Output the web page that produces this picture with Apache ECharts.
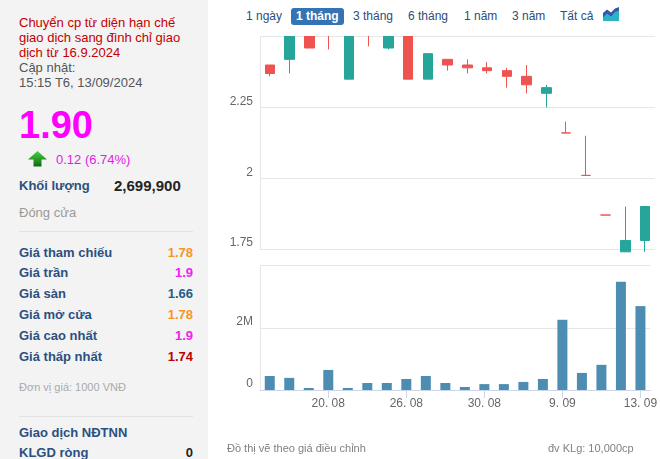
<!DOCTYPE html>
<html>
<head>
<meta charset="utf-8">
<script src="https://cdn.jsdelivr.net/npm/echarts@6/dist/echarts.min.js"></script>
<style>
  html, body { margin:0; padding:0; background:#fff; width:660px; height:459px; overflow:hidden;
    font-family:"Liberation Sans", Arial, sans-serif; }
  #panel { position:absolute; left:0; top:0; width:208px; height:459px; background:#f3f3f3; }
  .t { position:absolute; white-space:nowrap; }
  .lbl { position:absolute; left:19px; font-size:13px; font-weight:bold; color:#2b5080; line-height:16px; white-space:nowrap; }
  .val { position:absolute; right:15px; font-size:13px; font-weight:bold; line-height:16px; text-align:right; }
  .sep { position:absolute; left:19px; width:174px; height:1px; background:#e2e2e2; }
  #chart { position:absolute; left:208px; top:0; width:452px; height:459px; }
  #mask { position:absolute; left:208px; top:0; width:452px; height:36px; background:#fff; z-index:5; }
  .btn { position:absolute; top:8px; height:17px; line-height:17px; font-size:12px; color:#2e4d7b; white-space:nowrap; }
  .btn.on { background:#3574b4; color:#fff; font-weight:bold; border-radius:3px; padding:0 5px; }
  .foot { position:absolute; top:441px; font-size:11px; color:#808080; line-height:14px; white-space:nowrap; z-index:6; }
</style>
</head>
<body>
<div id="panel">
  <div class="t" style="left:19px;top:15px;font-size:13px;line-height:15px;color:#c40000;">Chuyển cp từ diện hạn chế<br>giao dịch sang đình chỉ giao<br>dịch từ 16.9.2024</div>
  <div class="t" style="left:19px;top:60px;font-size:13px;line-height:15px;color:#555;">Cập nhật:<br>15:15 T6, 13/09/2024</div>
  <div class="t" style="left:19px;top:106px;font-size:38px;line-height:38px;font-weight:bold;color:#ff00ff;">1.90</div>
  <svg class="t" style="left:28px;top:151px;" width="19" height="16" viewBox="0 0 19 16">
    <defs><linearGradient id="ga" x1="0" y1="0" x2="0" y2="1"><stop offset="0" stop-color="#4fcf3f"/><stop offset="1" stop-color="#0a6a12"/></linearGradient></defs>
    <polygon points="9.5,0 19,8.5 13.5,8.5 13.5,15.5 5.5,15.5 5.5,8.5 0,8.5" fill="url(#ga)"/>
  </svg>
  <div class="t" style="left:56px;top:152px;font-size:13px;line-height:16px;color:#e619e6;">0.12 (6.74%)</div>
  <div class="lbl" style="top:178px;">Khối lượng</div>
  <div class="t" style="left:114px;top:177px;font-size:15px;line-height:17px;font-weight:bold;color:#222;">2,699,900</div>
  <div class="t" style="left:19px;top:205px;font-size:13px;line-height:16px;color:#9a9a9a;">Đóng cửa</div>
  <div class="sep" style="top:231px;"></div>
  <div class="lbl" style="top:245px;">Giá tham chiếu</div><div class="val" style="top:245px;color:#f5961f;">1.78</div>
  <div class="lbl" style="top:265px;">Giá trần</div><div class="val" style="top:265px;color:#f020f0;">1.9</div>
  <div class="lbl" style="top:286px;">Giá sàn</div><div class="val" style="top:286px;color:#255c8c;">1.66</div>
  <div class="lbl" style="top:307px;">Giá mở cửa</div><div class="val" style="top:307px;color:#f5961f;">1.78</div>
  <div class="lbl" style="top:328px;">Giá cao nhất</div><div class="val" style="top:328px;color:#f020f0;">1.9</div>
  <div class="lbl" style="top:349px;">Giá thấp nhất</div><div class="val" style="top:349px;color:#c00000;">1.74</div>
  <div class="t" style="left:19px;top:380px;font-size:11px;line-height:14px;color:#aaa;">Đơn vị giá: 1000 VNĐ</div>
  <div class="sep" style="top:416px;"></div>
  <div class="lbl" style="top:425px;">Giao dịch NĐTNN</div>
  <div class="lbl" style="top:445px;">KLGD ròng</div><div class="val" style="top:445px;color:#222;">0</div>
</div>
<div id="chart"></div>
<div id="mask">
  <div class="btn" style="left:38px;">1 ngày</div>
  <div class="btn on" style="left:83px;">1 tháng</div>
  <div class="btn" style="left:145px;">3 tháng</div>
  <div class="btn" style="left:200px;">6 tháng</div>
  <div class="btn" style="left:256px;">1 năm</div>
  <div class="btn" style="left:304px;">3 năm</div>
  <div class="btn" style="left:352px;">Tất cả</div>
  <svg style="position:absolute;left:395px;top:7px;" width="16" height="14" viewBox="0 0 16 14">
    <polygon points="0,6 4,2.5 8,5.5 12,1.5 16,0 16,14 0,14" fill="#3a55a8"/>
    <polygon points="0,10.5 4,6.5 8,9.5 12,5 16,3.5 16,14 0,14" fill="#2cb3c8"/>
  </svg>
</div>
<div class="foot" style="left:227px;">Đồ thị vẽ theo giá điều chỉnh</div>
<div class="foot" style="left:548px;">đv KLg: 10,000cp</div>
<script>
// ---- data ----
const dates = ['15. 08','16. 08','19. 08','20. 08','21. 08','22. 08','23. 08','26. 08','27. 08','28. 08',
               '29. 08','30. 08','4. 09','5. 09','6. 09','9. 09','10. 09','11. 09','12. 09','13. 09'];
const openP  = [2.40, 2.42, 2.55, 2.56, 2.35, 2.54, 2.46, 2.53, 2.35, 2.42, 2.40, 2.39, 2.38, 2.36, 2.30, 2.16, 2.01, 1.87, 1.74, 1.78];
const closeP = [2.37, 2.55, 2.46, 2.52, 2.55, 2.52, 2.53, 2.35, 2.44, 2.40, 2.39, 2.38, 2.36, 2.33, 2.32, 2.16, 2.01, 1.87, 1.78, 1.90];
const lowP   = [2.36, 2.37, 2.46, 2.455, 2.35, 2.466, 2.455, 2.35, 2.35, 2.38, 2.37, 2.37, 2.32, 2.30, 2.25, 2.16, 2.01, 1.87, 1.74, 1.74];
const highP  = [2.40, 2.57, 2.56, 2.58, 2.56, 2.56, 2.55, 2.54, 2.44, 2.42, 2.42, 2.41, 2.39, 2.40, 2.33, 2.20, 2.15, 1.87, 1.90, 1.90];
const volume = [450000, 390000, 65000, 645000, 65000, 226000, 226000, 355000, 450000, 226000,
                97000, 190000, 190000, 260000, 355000, 2260000, 550000, 810000, 3480000, 2700000];
const labelIdx = [3, 7, 11, 15, 19];
const priceTicks = {min: 1.75, max: 2.5, interval: 0.25};
const volTicks = {min: 0, max: 4000000, interval: 2000000};

const candleData = dates.map((d, i) => [openP[i], closeP[i], lowP[i], highP[i]]);
const UP = '#26a69a', DOWN = '#ef5350';
const axisFont = {fontFamily: '"Liberation Sans", Arial, sans-serif', fontSize: 12, color: '#666'};

const chart = echarts.init(document.getElementById('chart'), null, {renderer: 'canvas'});
chart.setOption({
  animation: false,
  grid: [
    {left: 52, right: 5, top: 36.7, height: 212.3},
    {left: 52, right: 5, top: 265.7, height: 124.3}
  ],
  xAxis: [
    {type: 'category', gridIndex: 0, data: dates, boundaryGap: true,
     axisLine: {show: false}, axisTick: {show: false}, axisLabel: {show: false}, splitLine: {show: false}},
    {type: 'category', gridIndex: 1, data: dates, boundaryGap: true,
     axisLine: {show: true, lineStyle: {color: '#ccd6eb'}},
     axisTick: {show: true, alignWithLabel: true, length: 8, lineStyle: {color: '#ccd6eb'},
                interval: (i) => labelIdx.includes(i)},
     axisLabel: Object.assign({interval: (i) => labelIdx.includes(i), margin: 8}, axisFont),
     splitLine: {show: false}}
  ],
  yAxis: [
    {type: 'value', gridIndex: 0, min: priceTicks.min, max: priceTicks.max, interval: priceTicks.interval,
     axisLine: {show: true, lineStyle: {color: '#e6e6e6'}}, axisTick: {show: false},
     splitLine: {lineStyle: {color: '#e6e6e6'}},
     axisLabel: Object.assign({margin: 7, verticalAlign: 'bottom', lineHeight: 12,
       formatter: (v) => (Math.abs(v - priceTicks.max) < 1e-9 ? '' : String(+v.toFixed(2)))}, axisFont)},
    {type: 'value', gridIndex: 1, min: volTicks.min, max: volTicks.max, interval: volTicks.interval,
     axisLine: {show: true, lineStyle: {color: '#e6e6e6'}}, axisTick: {show: false},
     splitLine: {lineStyle: {color: '#e6e6e6'}},
     axisLabel: Object.assign({margin: 7, verticalAlign: 'bottom', lineHeight: 12,
       formatter: (v) => (v === 0 ? '0' : v >= volTicks.max ? '' : (v / 1e6) + 'M')}, axisFont)}
  ],
  series: [
    {type: 'candlestick', xAxisIndex: 0, yAxisIndex: 0, data: candleData, barWidth: 10, clip: false,
     itemStyle: {color: UP, color0: DOWN, borderColor: UP, borderColor0: DOWN, borderColorDoji: DOWN, borderWidth: 1}},
    {type: 'bar', xAxisIndex: 1, yAxisIndex: 1, data: volume, barWidth: 10,
     itemStyle: {color: '#4e8db2'}}
  ]
});
</script>
</body>
</html>
